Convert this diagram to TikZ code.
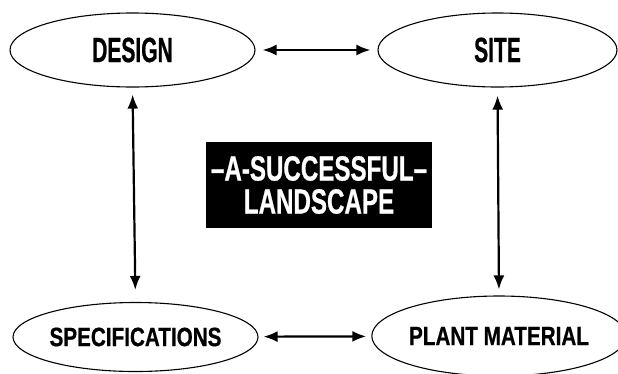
\documentclass[tikz,border=0pt]{standalone}
\usepackage{fontspec}
\usepackage{tikz}
\usetikzlibrary{arrows.meta, shapes.geometric, positioning, calc}
\newfontfamily\topfont[FakeStretch=0.6,FakeBold=0.6]{Liberation Sans}
\newfontfamily\botfont[FakeStretch=0.78,FakeBold=0.6]{Liberation Sans}
\newfontfamily\boxfont[FakeStretch=0.69,FakeBold=0.6]{Liberation Sans}

\begin{document}
\begin{tikzpicture}[x=1pt,y=-1pt,
  oval/.style={draw, ellipse, line width=1.1pt, inner sep=0pt},
  toplabel/.style={font=\topfont\bfseries\fontsize{35}{35}\selectfont},
  botlabel/.style={font=\botfont\bfseries\fontsize{26.5}{26.5}\selectfont},
  link/.style={{Latex[length=14pt,width=11pt]}-{Latex[length=14pt,width=11pt]}, line width=2.2pt}]
\useasboundingbox (0,0) rectangle (618,373);
\node[oval, toplabel, minimum width=245, minimum height=74] (Design) at (132.5,50) {DESIGN};
\node[oval, toplabel, minimum width=239, minimum height=74] (Site) at (497.5,50) {SITE};
\node[oval, botlabel, minimum width=245, minimum height=69] (Spec) at (135.5,337) {SPECIFICATIONS};
\node[oval, botlabel, minimum width=242, minimum height=80] (Plant) at (499,336) {PLANT MATERIAL};
\node[fill=black, text=white, minimum width=226, minimum height=86, align=center, inner sep=0pt,
  font=\boxfont\bfseries\fontsize{35}{33}\selectfont] (Title) at (319,185) {–A-SUCCESSFUL–\\LANDSCAPE};
\draw[link, shorten <=7pt, shorten >=7pt] (Design) -- (Site);
\draw[link, shorten <=5pt, shorten >=5pt] (Spec) -- (Plant);
\draw[link, shorten <=7pt, shorten >=12pt] (Design.south) -- (Spec.north);
\draw[link, shorten <=8pt, shorten >=6pt] (Site.south) -- (Plant.north);
\end{tikzpicture}
\end{document}
